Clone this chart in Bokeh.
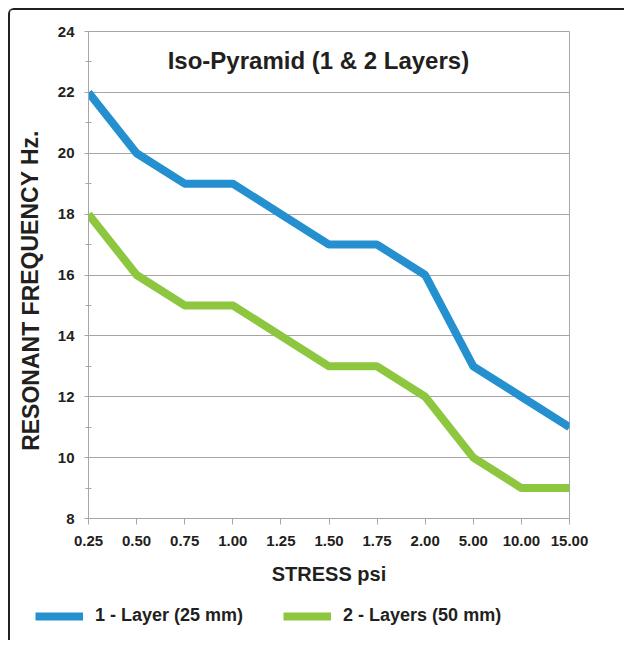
from bokeh.plotting import figure
from bokeh.models import Label, Legend, LegendItem, FixedTicker, Range1d
from bokeh.layouts import column, row
from bokeh.embed import file_html
from bokeh.resources import INLINE

stress_labels = ["0.25", "0.50", "0.75", "1.00", "1.25", "1.50", "1.75", "2.00", "5.00", "10.00", "15.00"]
one_layer = [22, 20, 19, 19, 18, 17, 17, 16, 13, 12, 11]
two_layers = [18, 16, 15, 15, 14, 13, 13, 12, 10, 9, 9]
y_ticks = [8, 10, 12, 14, 16, 18, 20, 22, 24]
title_text = "Iso-Pyramid (1 & 2 Layers)"
x_title = "STRESS psi"
y_title = "RESONANT FREQUENCY Hz."
series_names = ["1 - Layer (25 mm)", "2 - Layers (50 mm)"]

FONT = "Liberation Sans"
BLUE = "#2590cf"
GREEN = "#8dc63f"
GRID = "#a6a6a6"
TXT = "#231f20"
LW = 8
W = 614
YLW = 40
H = 580


def bare(fig):
    fig.outline_line_color = None
    fig.background_fill_color = "white"
    fig.border_fill_color = "white"
    fig.frame_align = False
    return fig


p = figure(width=W - YLW, height=H, output_backend="svg", toolbar_location=None,
           x_range=Range1d(0, len(stress_labels) - 1), y_range=Range1d(8, 24),
           min_border_left=38, min_border_right=55, min_border_top=21, min_border_bottom=72)
p.background_fill_color = "white"
p.border_fill_color = "white"
p.outline_line_color = GRID
p.outline_line_width = 1
p.frame_align = False

xs = list(range(len(stress_labels)))
r1 = p.line(xs, one_layer, line_color=BLUE, line_width=LW)
r2 = p.line(xs, two_layers, line_color=GREEN, line_width=LW)

# axes
p.xaxis.ticker = FixedTicker(ticks=xs)
p.xaxis.major_label_overrides = {i: s for i, s in enumerate(stress_labels)}
p.yaxis.ticker = FixedTicker(ticks=y_ticks, minor_ticks=[9, 11, 13, 15, 17, 19, 21, 23])
for ax in (p.xaxis, p.yaxis):
    ax.axis_line_color = GRID
    ax.major_tick_line_color = GRID
    ax.minor_tick_line_color = GRID
    ax.major_label_text_font = FONT
    ax.major_label_text_font_style = "bold"
    ax.major_label_text_font_size = "15px"
    ax.major_label_text_color = TXT
    ax.axis_label_text_font = FONT
    ax.axis_label_text_font_style = "bold"
    ax.axis_label_text_color = TXT
p.xaxis.major_tick_in = 0
p.xaxis.major_tick_out = 6
p.xaxis.minor_tick_in = 0
p.xaxis.minor_tick_out = 0
p.xaxis.major_label_standoff = 11
p.xaxis.axis_label = x_title
p.xaxis.axis_label_text_font_size = "20px"
p.xaxis.axis_label_standoff = 14
p.yaxis.major_tick_in = 0
p.yaxis.major_tick_out = 4
p.yaxis.minor_tick_in = 3
p.yaxis.minor_tick_out = 3
p.yaxis.major_label_standoff = 10

p.xgrid.grid_line_color = None
p.ygrid.ticker = FixedTicker(ticks=y_ticks)
p.ygrid.grid_line_color = GRID
p.ygrid.grid_line_width = 1

# title inside plot
p.add_layout(Label(x=4.78, y=23.05, text=title_text, text_align="center", text_baseline="middle",
                   text_font=FONT, text_font_style="bold", text_font_size="24px", text_color=TXT))

# y axis title in its own narrow figure (pixel-mapped ranges)
yl = bare(figure(width=YLW, height=H, output_backend="svg", toolbar_location=None,
                 x_range=Range1d(0, YLW), y_range=Range1d(0, H),
                 x_axis_location=None, y_axis_location=None,
                 min_border_left=0, min_border_right=0, min_border_top=0, min_border_bottom=0))
yl.grid.visible = False
yl.add_layout(Label(x=20, y=300, text=y_title, angle=1.5708, text_align="center",
                    text_baseline="middle", text_font=FONT, text_font_style="bold",
                    text_font_size="23px", text_color=TXT))

# legend in its own small figure
lg = bare(figure(width=W, height=50, output_backend="svg", toolbar_location=None,
                 x_range=Range1d(0, 1), y_range=Range1d(0, 1),
                 x_axis_location=None, y_axis_location=None,
                 min_border_left=0, min_border_right=0, min_border_top=0, min_border_bottom=0))
lg.grid.visible = False
d1 = lg.line([5, 6], [5, 6], line_color=BLUE, line_width=LW)
d2 = lg.line([5, 6], [5, 6], line_color=GREEN, line_width=LW)
legend = Legend(items=[LegendItem(label=series_names[0], renderers=[d1]),
                       LegendItem(label=series_names[1], renderers=[d2])],
                orientation="horizontal", location=(25, 14),
                label_text_font=FONT, label_text_font_style="bold", label_text_font_size="18px",
                label_text_color=TXT, glyph_width=48, glyph_height=12, spacing=40,
                label_standoff=12, border_line_color=None, background_fill_alpha=0,
                padding=4, margin=0)
lg.add_layout(legend)

layout = column(row(yl, p, spacing=0), lg, spacing=0)
layout.margin = (8, 0, 0, 8)
layout.styles = {"border-top": "2px solid #231f20", "border-left": "2px solid #231f20",
                 "border-top-left-radius": "6px"}

open("out.html", "w").write(file_html(layout, INLINE))
